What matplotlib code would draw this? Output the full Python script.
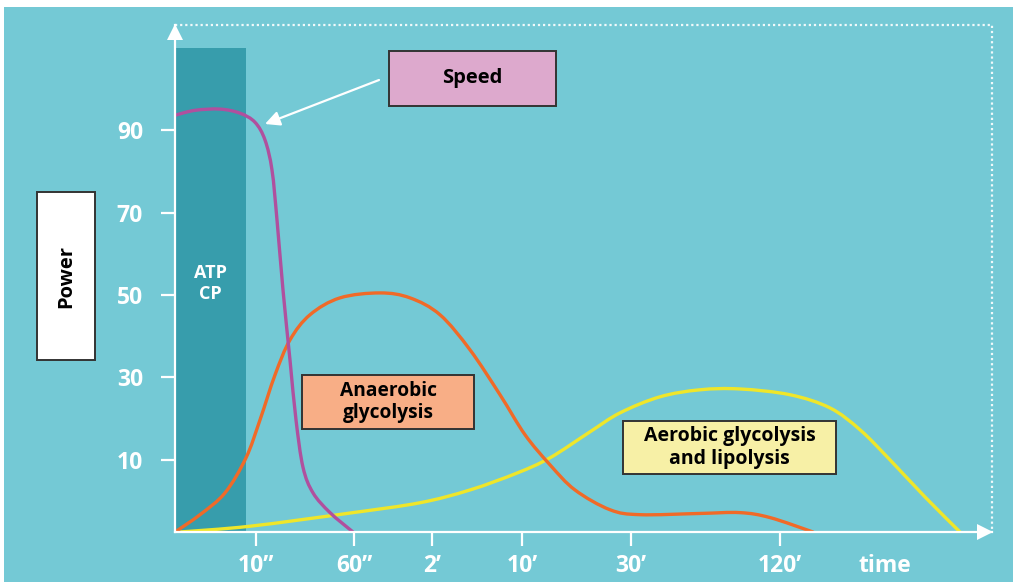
import matplotlib
matplotlib.use("Agg")
import matplotlib.pyplot as plt
from matplotlib.patches import Rectangle, Polygon, FancyArrowPatch, PathPatch
from matplotlib.path import Path

plt.rcParams['font.family'] = ['Open Sans', 'DejaVu Sans']

# ---- data (x: time-axis position, y: power) ----
tick_pos = [81, 179, 257, 347, 456, 605, 710]
tick_labels = ['10\u201d', '60\u201d', '2\u2019', '10\u2019', '30\u2019', '120\u2019', 'time']
y_ticks = [10, 30, 50, 70, 90]

atp_start, atp_end, atp_top = 0, 71, 110

speed_x = [0, 20, 45, 65, 80, 90, 97, 102, 108, 115, 121, 128, 138, 155, 178]
speed_y = [93.6, 94.8, 95.1, 94.1, 91.9, 87.6, 80.3, 68.2, 51.2, 34.2, 19.7, 8.2, 2.0, -2.8, -7.5]

anaer_x = [0, 25, 50, 71, 85, 100, 115, 135, 165, 205, 235, 265, 295, 325, 350, 375, 400, 435, 465, 525, 565, 595, 638]
anaer_y = [-7.5, -3.3, 2.0, 10.5, 19.7, 30.6, 39.1, 45.2, 49.3, 50.5, 49.3, 45.2, 36.7, 25.8, 16.1, 8.8, 2.7, -2.1, -3.3, -3.0, -2.8, -4.0, -7.5]

aer_x = [5, 75, 175, 245, 295, 342, 375, 415, 445, 485, 525, 565, 615, 655, 685, 715, 750, 785]
aer_y = [-7.5, -6.1, -2.9, -0.4, 2.7, 6.8, 10.5, 16.8, 21.4, 25.3, 27.0, 27.2, 25.8, 22.6, 17.3, 10.0, 1.0, -7.5]

# ---- colours ----
BG = '#74C9D5'
ATP = '#379DAC'
PURPLE = '#B0509E'
ORANGE = '#F06A28'
YELLOW = '#EFE62A'

W, H = 1013, 582
fig = plt.figure(figsize=(W / 100, H / 100), dpi=100)
fig.patch.set_facecolor('white')

# background layer (pixel coordinates)
bg = fig.add_axes([0, 0, 1, 1], zorder=0)
bg.set_xlim(0, W); bg.set_ylim(H, 0); bg.axis('off')
bg.add_patch(Rectangle((4, 7), W, H, facecolor=BG, edgecolor='none'))

# main axes
ax = fig.add_axes([175 / W, 50 / H, 817 / W, 507 / H], zorder=1)
ax.patch.set_visible(False)
ax.set_xlim(0, 817)
ax.set_ylim(-7.5, 115.5)

ax.bar(atp_start, atp_top + 7.5, width=atp_end - atp_start, bottom=-7.5,
       align='edge', color=ATP, zorder=1)
ax.text((atp_start + atp_end) / 2, 52.7, 'ATP\nCP', color='white', fontsize=13,
        fontweight='bold', ha='center', va='center', linespacing=1.2, zorder=2)


def smooth_path(xs, ys):
    """Cubic Bezier path through the given points (Catmull-Rom tangents)."""
    pts = list(zip(xs, ys))
    verts = [pts[0]]
    codes = [Path.MOVETO]
    n = len(pts)
    for i in range(n - 1):
        p0 = pts[i - 1] if i > 0 else pts[i]
        p1 = pts[i]
        p2 = pts[i + 1]
        p3 = pts[i + 2] if i + 2 < n else pts[i + 1]
        c1 = (p1[0] + (p2[0] - p0[0]) / 6, p1[1] + (p2[1] - p0[1]) / 6)
        c2 = (p2[0] - (p3[0] - p1[0]) / 6, p2[1] - (p3[1] - p1[1]) / 6)
        verts += [c1, c2, p2]
        codes += [Path.CURVE4] * 3
    return Path(verts, codes)


lw = 2.4
for xs, ys, col, z in [(aer_x, aer_y, YELLOW, 3), (anaer_x, anaer_y, ORANGE, 4),
                       (speed_x, speed_y, PURPLE, 5)]:
    ax.add_patch(PathPatch(smooth_path(xs, ys), facecolor='none', edgecolor=col,
                           lw=lw, capstyle='round', joinstyle='round', zorder=z))

for s in ['top', 'right']:
    ax.spines[s].set_visible(False)
for s in ['left', 'bottom']:
    ax.spines[s].set_color('white')
    ax.spines[s].set_linewidth(1.6)
    ax.spines[s].set_zorder(6)

ax.set_yticks(y_ticks)
ax.set_yticklabels([str(v) for v in y_ticks])
ax.set_xticks(tick_pos)
ax.set_xticklabels(tick_labels)
ax.tick_params(axis='y', colors='white', length=10, width=1.6, pad=13,
               labelsize=16.5)
ax.tick_params(axis='x', colors='white', length=10, width=1.6, pad=6,
               labelsize=16.5)
for lab in ax.get_xticklabels() + ax.get_yticklabels():
    lab.set_fontweight('bold')
ax.xaxis.get_major_ticks()[-1].tick1line.set_visible(False)

# overlay (pixel coordinates) for frame, arrows and labels
ov = fig.add_axes([0, 0, 1, 1], zorder=3)
ov.set_xlim(0, W); ov.set_ylim(H, 0); ov.axis('off')
ov.patch.set_visible(False)

ov.plot([175, 992, 992], [25, 25, 532], color='white', lw=1.6,
        linestyle=(0, (1, 1.3)), alpha=0.9)
ov.add_patch(Polygon([[175, 24], [167, 40], [183, 40]], closed=True,
                     facecolor='white', edgecolor='none'))
ov.add_patch(Polygon([[993, 532], [977, 524], [977, 540]], closed=True,
                     facecolor='white', edgecolor='none'))


def box(x0, y0, x1, y1, fc, text, size, rot=0):
    ov.add_patch(Rectangle((x0, y0), x1 - x0, y1 - y0, facecolor=fc,
                           edgecolor='#333333', lw=1.4))
    ov.text((x0 + x1) / 2, (y0 + y1) / 2, text, ha='center', va='center',
            fontsize=size, fontweight='bold', color='black', rotation=rot,
            linespacing=1.15)


box(37, 192, 95, 360, 'white', 'Power', 14.5, rot=90)
box(389, 51, 556, 106, '#DDA9CD', 'Speed', 14.5)
box(302, 375, 474, 429, '#F8AE86', 'Anaerobic\nglycolysis', 13.8)
box(623, 421, 836, 474, '#F7F0A6', 'Aerobic glycolysis\nand lipolysis', 14)

ov.add_patch(FancyArrowPatch((379, 80), (265, 124), arrowstyle='-|>',
                             mutation_scale=22, color='white', lw=1.6,
                             shrinkA=0, shrinkB=0))

fig.savefig('out.png', dpi=100, facecolor=fig.get_facecolor())
